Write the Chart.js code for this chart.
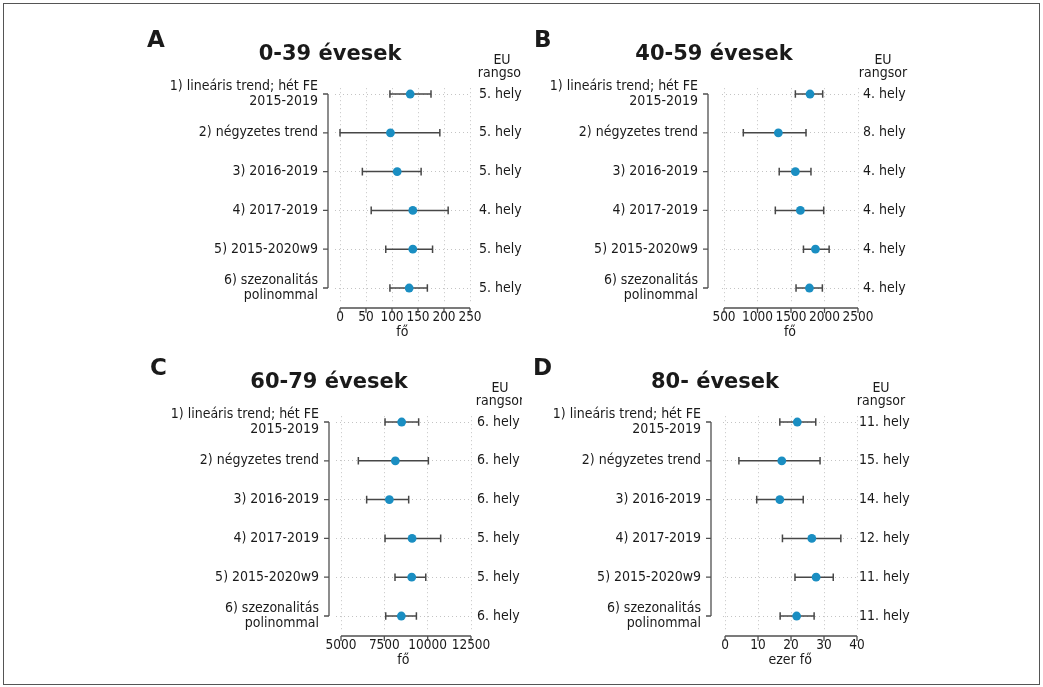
<!DOCTYPE html>
<html>
<head>
<meta charset="utf-8">
<script src="https://cdn.jsdelivr.net/npm/chart.js@4.4.1/dist/chart.umd.min.js"></script>
<style>
  body { margin: 0; background: #fff; font-family: 'DejaVu Sans', sans-serif; color: #1a1a1a; }
  #frame { position: absolute; left: 3px; top: 3px; width: 1037px; height: 682px; border: 1px solid #555; box-sizing: border-box; }
  .panel { position: absolute; overflow: hidden; }
  .panel canvas { position: absolute; left: 0; top: 0; }
  .letter { position: absolute; font-weight: bold; font-size: 23px; line-height: 23px; }
  .title { position: absolute; font-weight: bold; font-size: 21px; line-height: 21px; transform: translateX(-50%); white-space: nowrap; }
  .eu { position: absolute; font-family: 'DejaVu Sans Condensed', 'DejaVu Sans', sans-serif; font-size: 14px; line-height: 13px; text-align: center; transform: translateX(-50%); }
</style>
</head>
<body>
<div id="frame"></div>

<div class="panel" style="left:140px;top:30px;width:382px;height:320px">
  <canvas id="cA" width="382" height="320"></canvas>
  <div class="eu" style="left:362px;top:23px">EU<br>rangsor</div>
</div>
<div class="panel" style="left:522px;top:30px;width:390px;height:320px">
  <canvas id="cB" width="390" height="320"></canvas>
  <div class="eu" style="left:361px;top:23px">EU<br>rangsor</div>
</div>
<div class="panel" style="left:140px;top:358px;width:382px;height:320px">
  <canvas id="cC" width="382" height="320"></canvas>
  <div class="eu" style="left:360px;top:23px">EU<br>rangsor</div>
</div>
<div class="panel" style="left:522px;top:358px;width:390px;height:320px">
  <canvas id="cD" width="390" height="320"></canvas>
  <div class="eu" style="left:359px;top:23px">EU<br>rangsor</div>
</div>

<div class="letter" style="left:147px;top:28px">A</div>
<div class="letter" style="left:534px;top:28px">B</div>
<div class="letter" style="left:150px;top:356px">C</div>
<div class="letter" style="left:533px;top:356px">D</div>
<div class="title" style="left:330px;top:43px">0-39 évesek</div>
<div class="title" style="left:714px;top:43px">40-59 évesek</div>
<div class="title" style="left:329px;top:371px">60-79 évesek</div>
<div class="title" style="left:715px;top:371px">80- évesek</div>

<script>
// sorok
var rows = [1, 2, 3, 4, 5, 6];
var rowLabels = [
  ['1) lineáris trend; hét FE', '2015-2019'],
  '2) négyzetes trend',
  '3) 2016-2019',
  '4) 2017-2019',
  '5) 2015-2020w9',
  ['6) szezonalitás', 'polinommal']
];

// A: 0-39
var estA = [135, 97, 110, 140, 140, 133];
var loA = [96, 0, 43, 60, 88, 96];
var hiA = [175, 192, 156, 208, 178, 168];
var rankA = [5, 5, 5, 4, 5, 5];
var ticksA = [0, 50, 100, 150, 200, 250];

// B: 40-59
var estB = [1784, 1311, 1565, 1640, 1865, 1775];
var loB = [1565, 788, 1324, 1266, 1686, 1575];
var hiB = [1973, 1724, 1798, 1988, 2069, 1968];
var rankB = [4, 8, 4, 4, 4, 4];
var ticksB = [500, 1000, 1500, 2000, 2500];

// C: 60-79
var estC = [8500, 8135, 7790, 9100, 9080, 8480];
var loC = [7540, 6000, 6480, 7540, 8115, 7580];
var hiC = [9480, 10040, 8905, 10750, 9890, 9350];
var rankC = [6, 6, 6, 5, 5, 6];
var ticksC = [5000, 7500, 10000, 12500];

// D: 80- (ezer fő)
var estD = [21.9, 17.2, 16.6, 26.3, 27.6, 21.7];
var loD = [16.6, 4.2, 9.6, 17.4, 21.2, 16.7];
var hiD = [27.5, 28.8, 23.7, 35.1, 32.8, 27.0];
var rankD = [11, 15, 14, 12, 11, 11];
var ticksD = [0, 10, 20, 30, 40];

var blue = '#1a8ec2';
var barColor = '#474747';
var gridColor = '#c4c4c4';

Chart.defaults.font.family = "'DejaVu Sans Condensed', 'DejaVu Sans', sans-serif";
Chart.defaults.font.size = 14;
Chart.defaults.font.lineHeight = 1.05;
Chart.defaults.color = '#1a1a1a';

// R-szeru tengelyvonalak: csak az elso es utolso osztas kozott
var rAxes = {
  id: 'rAxes',
  afterDraw: function(chart, args, opts) {
    var ctx = chart.ctx, area = chart.chartArea;
    var x = chart.scales.x, y = chart.scales.y;
    ctx.save();
    ctx.strokeStyle = '#505050';
    ctx.lineWidth = 1.3;
    ctx.beginPath();
    var y0 = area.bottom + opts.xGap;
    var xs = opts.xTicks.map(function(v) { return x.getPixelForValue(v); });
    ctx.moveTo(xs[0], y0);
    ctx.lineTo(xs[xs.length - 1], y0);
    xs.forEach(function(px) { ctx.moveTo(px, y0); ctx.lineTo(px, y0 + 5); });
    var x0 = area.left - opts.yGap;
    var ys = rows.map(function(v) { return y.getPixelForValue(v); });
    ctx.moveTo(x0, ys[0]);
    ctx.lineTo(x0, ys[ys.length - 1]);
    ys.forEach(function(py) { ctx.moveTo(x0, py); ctx.lineTo(x0 - 5, py); });
    ctx.stroke();
    ctx.restore();
  }
};

function drawPanel(id, est, lo, hi, ranks, xTicks, xMin, xMax, xTitle, lay) {
  var bars = rows.map(function(r, i) {
    return {
      data: [{x: lo[i], y: r}, {x: hi[i], y: r}],
      showLine: true,
      borderColor: barColor,
      borderWidth: 1.5,
      pointStyle: 'line',
      pointRotation: 90,
      pointRadius: 3.8,
      pointHoverRadius: 3.8,
      pointBorderColor: barColor,
      pointBorderWidth: 1.5,
      order: 2
    };
  });
  var pts = {
    data: rows.map(function(r, i) { return {x: est[i], y: r}; }),
    pointRadius: 4.4,
    pointHoverRadius: 4.4,
    pointBackgroundColor: blue,
    pointBorderWidth: 0,
    order: 1
  };
  var rowTicks = function(s) { s.ticks = rows.map(function(v) { return {value: v}; }); };

  new Chart(document.getElementById(id), {
    type: 'scatter',
    data: { datasets: [pts].concat(bars) },
    options: {
      responsive: false,
      animation: false,
      events: [],
      layout: { padding: { top: lay.top, left: 0, right: 0, bottom: 0 } },
      plugins: {
        legend: { display: false },
        tooltip: { enabled: false },
        rAxes: { xTicks: xTicks, xGap: 6.4, yGap: lay.yGap }
      },
      scales: {
        x: {
          type: 'linear', min: xMin, max: xMax,
          afterBuildTicks: function(s) { s.ticks = xTicks.map(function(v) { return {value: v}; }); },
          afterFit: function(s) { s.height = lay.xH; },
          grid: { color: gridColor, drawTicks: false },
          border: { display: false, dash: [1, 3] },
          ticks: { padding: 9, autoSkip: false, maxRotation: 0, font: { size: 13.5 }, callback: function(v) { return String(v); } },
          title: { display: true, text: xTitle, padding: { top: 0, bottom: 10 } }
        },
        y: {
          type: 'linear', min: 0.85, max: 6.35, reverse: true,
          afterBuildTicks: rowTicks,
          afterFit: function(s) { s.width = lay.yW; },
          grid: { color: gridColor, drawTicks: false },
          border: { display: false, dash: [1, 3] },
          ticks: { padding: lay.yPad, autoSkip: false, callback: function(v, i) { return rowLabels[i]; } }
        },
        y2: {
          type: 'linear', position: 'right', min: 0.85, max: 6.35, reverse: true,
          afterBuildTicks: rowTicks,
          afterFit: function(s) { s.width = lay.y2W; },
          grid: { display: false, drawTicks: false },
          border: { display: false },
          ticks: { padding: lay.rPad, autoSkip: false, callback: function(v, i) { return ranks[i] + '. hely'; } }
        }
      }
    },
    plugins: [rAxes]
  });
}

drawPanel('cA', estA, loA, hiA, rankA, ticksA, -10, 250, 'fő',
  { top: 58.2, xH: 48.4, yW: 194.8, y2W: 52, yPad: 16.8, rPad: 9, yGap: 6.8 });
drawPanel('cB', estB, loB, hiB, rankB, ticksB, 470, 2500, 'fő',
  { top: 58.2, xH: 48.4, yW: 200, y2W: 54, yPad: 24, rPad: 5, yGap: 14 });
drawPanel('cC', estC, loC, hiC, rankC, ticksC, 4700, 12500, 'fő',
  { top: 58.2, xH: 48.4, yW: 195.8, y2W: 51, yPad: 16.8, rPad: 6, yGap: 6.8 });
drawPanel('cD', estD, loD, hiD, rankD, ticksD, -0.5, 40, 'ezer fő',
  { top: 58.2, xH: 48.4, yW: 201.4, y2W: 55, yPad: 22.4, rPad: 2, yGap: 12.4 });
</script>
</body>
</html>
